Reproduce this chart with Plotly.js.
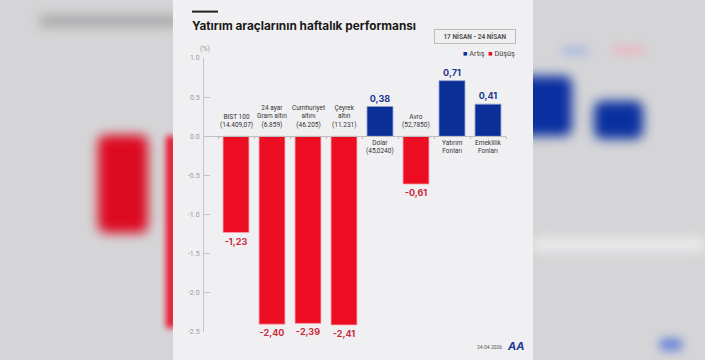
<!DOCTYPE html>
<html><head><meta charset="utf-8">
<script src="https://cdn.plot.ly/plotly-3.0.1.min.js"></script>
<style>
html,body{margin:0;padding:0;width:705px;height:360px;overflow:hidden;background:#d5d5d7;}
.blob{position:absolute;}
#chart{position:absolute;left:0;top:0;width:705px;height:360px;}
</style></head><body>
<div class="blob" style="left:40px;top:15px;width:140px;height:12px;background:#a8a8aa;filter:blur(6px);"></div>
<div class="blob" style="left:98px;top:135px;width:50px;height:98px;background:#dc0a20;border-radius:8px;filter:blur(6px);"></div>
<div class="blob" style="left:166px;top:136px;width:10px;height:192px;background:#e8102a;filter:blur(3px);"></div>
<div class="blob" style="left:515px;top:76px;width:57px;height:60px;background:#0a2fa0;border-radius:8px;filter:blur(6px);"></div>
<div class="blob" style="left:594px;top:101px;width:49px;height:38px;background:#0a2fa0;border-radius:8px;filter:blur(6px);"></div>
<div class="blob" style="left:562px;top:47px;width:26px;height:8px;background:#a9b8e2;filter:blur(5px);"></div>
<div class="blob" style="left:613px;top:45px;width:32px;height:10px;background:#e6bcc4;filter:blur(5px);"></div>
<div class="blob" style="left:659px;top:338px;width:24px;height:13px;background:#7088d8;border-radius:6px;filter:blur(5px);"></div>
<div class="blob" style="left:533px;top:238px;width:172px;height:14px;background:#eaeaec;filter:blur(6px);"></div>
<div id="chart"></div>
<script>
// ---- data ----
const categories = ["BIST 100","24 ayar Gram altın","Cumhuriyet altını","Çeyrek altın","Dolar","Avro","Yatırım Fonları","Emeklilik Fonları"];
const categoryLabels = ["BIST 100<br>(14.409,07)","24 ayar<br>Gram altın<br>(6.859)","Cumhuriyet<br>altını<br>(46.205)","Çeyrek<br>altın<br>(11.231)","Dolar<br>(45,0240)","Avro<br>(52,7850)","Yatırım<br>Fonları","Emeklilik<br>Fonları"];
const changes = [-1.23, -2.40, -2.39, -2.41, 0.38, -0.61, 0.71, 0.41];
const yTickVals = [1.0, 0.5, 0.0, -0.5, -1.0, -1.5, -2.0, -2.5];
const yTickText = ["1.0","0.5","0.0","-0.5","-1.0","-1.5","-2.0","-2.5"];
const seriesNames = ["Artış","Düşüş"];

// ---- layout helpers ----
const W=705,H=360,ML=204,MR=199,MT=58,MB=28;
const PW=W-ML-MR, PH=H-MT-MB;
const px=x=>(x-ML)/PW, py=y=>(H-MB-y)/PH;
const BLUE="#0b2f97", RED="#ec0d22";
const fmt=v=>v.toFixed(2).replace('.',',');

const posIdx=changes.map((v,i)=>i).filter(i=>changes[i]>=0);
const negIdx=changes.map((v,i)=>i).filter(i=>changes[i]<0);

function barTrace(idx,name,color,lineColor,textColor){
  return {type:'bar',name:name,x:idx.map(i=>categories[i]),y:idx.map(i=>changes[i]),
    text:idx.map(i=>fmt(changes[i])),textposition:'outside',cliponaxis:false,constraintext:'none',
    textfont:{family:'Inter, Lato, sans-serif',size:9,color:textColor,weight:700},
    marker:{color:color,line:{color:lineColor,width:0.8}},width:0.72,hoverinfo:'skip',showlegend:false};
}
const traces=[barTrace(posIdx,seriesNames[0],BLUE,'#8a9ad0','#1a3690'),
              barTrace(negIdx,seriesNames[1],RED,'#f7a3ab','#cc2a3c')];

const annotations=categories.map((c,i)=>({
  x:c,y:0,xref:'x',yref:'y',text:categoryLabels[i],showarrow:false,
  yanchor:changes[i]<0?'bottom':'top',yshift:changes[i]<0?5:-1,
  font:{family:'Roboto, sans-serif',size:6.5,color:'#333'},align:'center'
}));
annotations.push(
  {xref:'paper',yref:'paper',x:px(205),y:py(49),text:'(%)',showarrow:false,xanchor:'center',yanchor:'middle',
   font:{family:'Roboto, sans-serif',size:7,color:'#999'}},
  {xref:'paper',yref:'paper',x:px(474.8),y:py(37),text:'<b>17 NİSAN - 24 NİSAN</b>',showarrow:false,
   xanchor:'center',yanchor:'middle',width:76,height:9,borderpad:2,bordercolor:'#bcbcbc',borderwidth:1,
   font:{family:'Roboto, sans-serif',size:6.5,color:'#555'}},
  {xref:'paper',yref:'paper',x:px(516.5),y:py(53.5),showarrow:false,xanchor:'right',yanchor:'middle',
   text:'<span style="color:'+BLUE+'">■</span> '+seriesNames[0]+'  <span style="color:'+RED+'">■</span> '+seriesNames[1],
   font:{family:'Roboto, sans-serif',size:7.3,color:'#444'}},
  {xref:'paper',yref:'paper',x:px(503.5),y:py(347),text:'24.04.2026',showarrow:false,xanchor:'right',yanchor:'middle',
   font:{family:'Roboto, sans-serif',size:5,color:'#555'}},
  {xref:'paper',yref:'paper',x:px(516),y:py(346),text:'<b><i>AA</i></b>',showarrow:false,xanchor:'center',yanchor:'middle',
   font:{family:'Inter, sans-serif',size:11,color:'#1f3c8f'}}
);

const layout={
  width:W,height:H,margin:{l:ML,r:MR,t:MT,b:MB},
  paper_bgcolor:'rgba(0,0,0,0)',plot_bgcolor:'rgba(0,0,0,0)',
  barmode:'relative',
  title:{text:'<b>Yatırım araçlarının haftalık performansı</b>',xref:'container',yref:'container',
    x:192/W,xanchor:'left',y:1-26/H,yanchor:'middle',
    font:{family:'Inter, Lato, sans-serif',size:11.8,color:'#1a1a1a'}},
  xaxis:{type:'category',categoryorder:'array',categoryarray:categories,range:[-0.889,7.5],
    anchor:'free',position:2.5/3.5,showline:true,linecolor:'#bdbdbd',linewidth:1,
    ticks:'outside',tickson:'boundaries',ticklen:2,tickcolor:'#bdbdbd',showticklabels:false,
    showgrid:false,zeroline:false,fixedrange:true},
  yaxis:{range:[-2.5,1.0],tickvals:yTickVals,ticktext:yTickText,showline:true,linecolor:'#c4c4c4',linewidth:1,
    ticks:'inside',ticklen:6,tickcolor:'#c4c4c4',ticklabelstandoff:2,showgrid:false,zeroline:false,
    tickfont:{family:'Roboto, sans-serif',size:7,color:'#9a9a9a'},fixedrange:true},
  shapes:[
    {type:'rect',xref:'paper',yref:'paper',x0:px(173),x1:px(533),y0:py(360),y1:py(0),
     fillcolor:'#f0f0f2',line:{width:0},layer:'below'},
    {type:'line',xref:'paper',yref:'paper',x0:px(192),x1:px(218),y0:py(11.6),y1:py(11.6),
     line:{color:'#222',width:2}}
  ],
  annotations:annotations,showlegend:false
};
Plotly.newPlot('chart',traces,layout,{displayModeBar:false,staticPlot:true});
</script></body></html>
